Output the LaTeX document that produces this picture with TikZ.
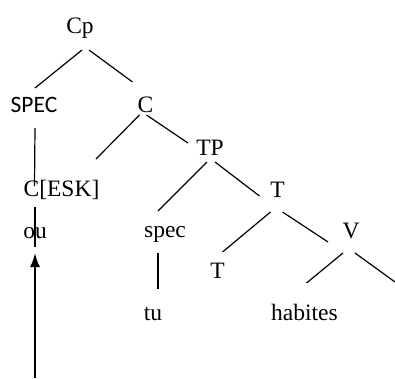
\documentclass[tikz,border=0pt]{standalone}
\usepackage{fontspec}
\setmainfont{Liberation Serif}
\newfontfamily\calibrifont{Carlito}
\usetikzlibrary{arrows.meta}
\begin{document}
\begin{tikzpicture}[x=1pt,y=-1pt,line width=1.2pt,
    every node/.style={anchor=base,inner sep=0pt,font=\fontsize{23.5}{28}\selectfont}]
\useasboundingbox (0,0) rectangle (395,378);

% noeuds de l'arbre
\node (Cp) at (80,33) {Cp};
\node[font=\fontsize{23.5}{28}\calibrifont] (SPEC) at (34,112) {SPEC};
\node (C) at (145.5,112) {C};
\node (CESK) at (61.5,196) {C[ESK]};
\node (TP) at (210,155) {TP};
\node (T) at (277.5,197) {T};
\node (V) at (351,238) {V};
\node (ou) at (35,238) {ou};
\node (spec) at (165,237) {spec};
\node (Th) at (217.5,278) {T};
\node (tu) at (153,320) {tu};
\node (hab) at (304.5,320) {habites};

% extremites libres
\coordinate (Vr) at (395,282);
\coordinate (bas) at (35,378);

% branches
\draw ([xshift=2pt,yshift=-17pt]Cp.base) -- ([xshift=1pt,yshift=24pt]SPEC.base);
\draw ([xshift=9pt,yshift=-17pt]Cp.base) -- ([xshift=-13pt,yshift=30pt]C.base);
\draw ([xshift=1pt,yshift=-16pt]SPEC.base) -- ([xshift=-27pt,yshift=10pt]CESK.base);
\draw ([xshift=-6pt,yshift=-3pt]C.base) -- ([xshift=34.5pt,yshift=37pt]CESK.base);
\draw ([xshift=1pt,yshift=-3pt]C.base) -- ([xshift=-22pt,yshift=12pt]TP.base);
\draw ([xshift=-3pt,yshift=-7pt]TP.base) -- ([xshift=-7pt,yshift=26pt]spec.base);
\draw ([xshift=5pt,yshift=-7pt]TP.base) -- ([xshift=-18pt,yshift=1pt]T.base);
\draw ([xshift=-7pt,yshift=-15pt]T.base) -- ([xshift=5pt,yshift=26pt]Th.base);
\draw ([xshift=5pt,yshift=-15pt]T.base) -- ([xshift=-23pt,yshift=-4pt]V.base);
\draw ([xshift=-8pt,yshift=-15pt]V.base) -- ([xshift=2pt,yshift=37pt]hab.base);
\draw ([xshift=4pt,yshift=-15pt]V.base) -- (Vr);
\draw ([xshift=-7pt,yshift=-16pt]spec.base) -- ([xshift=5pt,yshift=31pt]tu.base);
\draw ([xshift=-26.5pt,yshift=-11pt]CESK.base) -- ([yshift=-9pt]ou.base);

% mouvement
\draw[line width=1.8pt,-{Latex[length=14pt,width=10pt]}] (bas) -- ([yshift=-15pt]ou.base);
\end{tikzpicture}
\end{document}
